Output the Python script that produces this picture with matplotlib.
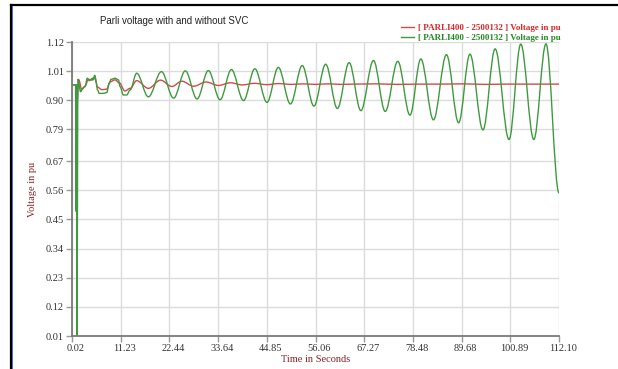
import matplotlib
matplotlib.use("Agg")
import matplotlib.pyplot as plt
from matplotlib.lines import Line2D
from matplotlib.path import Path
from matplotlib.patches import PathPatch
import matplotlib.transforms as mtransforms

# time axis ticks and voltage ticks (as printed on the chart)
x_ticks = [0.02, 11.23, 22.44, 33.64, 44.85, 56.06, 67.27, 78.48, 89.68, 100.89, 112.10]
y_ticks = [0.01, 0.12, 0.23, 0.34, 0.45, 0.56, 0.67, 0.79, 0.90, 1.01, 1.12]

# with SVC (red): turning points
t_red = [0.02, 0.87, 1.1, 1.6, 2.25, 3.0, 3.8, 4.55, 5.3, 5.85, 6.9, 8.0, 8.8,
         9.9, 10.9, 12.2, 13.4, 14.9, 17.6, 20.4, 23.0, 25.3, 28.0, 30.9, 33.7,
         36.5, 39.2, 42.0, 44.8, 47.6, 50.5, 53.3, 56.0, 59.0, 62.0, 65.0,
         70.0, 75.0, 80.0, 85.0, 90.0, 95.0, 100.0, 105.0, 112.1]
v_red = [0.958, 0.958, 0.882, 0.977, 0.940, 0.953, 0.979, 0.976, 0.989, 0.950,
         0.940, 0.942, 0.970, 0.977, 0.966, 0.935, 0.945, 0.974, 0.945, 0.976,
         0.952, 0.972, 0.953, 0.969, 0.956, 0.966, 0.958, 0.964, 0.959, 0.963,
         0.960, 0.962, 0.960, 0.962, 0.960, 0.961, 0.962, 0.960, 0.961, 0.961,
         0.962, 0.960, 0.961, 0.961, 0.961]

# without SVC (green): turning points
t_green = [0.02, 0.85, 0.95, 1.05, 1.15, 1.4, 2.0, 2.4, 3.0, 3.55, 4.0, 4.35,
           4.7, 4.95, 5.25, 5.55, 5.9, 6.3, 7.2, 8.0, 8.6, 9.0, 9.9, 10.7,
           11.1, 11.85, 12.6, 13.4, 14.9,
           17.6, 20.6, 23.4, 26.1, 28.8, 31.4, 34.1, 36.7, 39.5, 42.1, 44.9,
           47.5, 50.3, 53.0, 55.7, 58.4, 61.1, 63.8, 66.5, 69.4, 72.1, 75.0,
           77.8, 80.3, 83.2, 86.2, 89.0, 91.6, 94.6, 97.4, 100.6, 103.3,
           106.3, 109.1, 112.1]
v_green = [0.958, 0.958, 0.48, 0.96, 0.01, 0.98, 0.932, 0.945, 0.951, 0.983,
           0.974, 0.979, 0.983, 0.977, 0.995, 0.970, 0.939, 0.926, 0.926,
           0.929, 0.964, 0.979, 0.983, 0.977, 0.951, 0.920, 0.920, 0.939, 1.002,
           0.913, 1.008, 0.908, 1.011, 0.905, 1.012, 0.902, 1.016, 0.899, 1.019,
           0.892, 1.024, 0.886, 1.031, 0.878, 1.036, 0.869, 1.042, 0.861, 1.050,
           0.858, 1.047, 0.844, 1.056, 0.826, 1.072, 0.815, 1.074, 0.788, 1.094,
           0.752, 1.112, 0.752, 1.113, 0.55]

label = "[ PARLI400 - 2500132 ] Voltage in pu"


def smooth_path(t, v, k=0.36):
    # cubic bezier through the turning points, flat tangent at each one
    verts = [(t[0], v[0])]
    codes = [Path.MOVETO]
    for i in range(1, len(t)):
        dt = t[i] - t[i - 1]
        verts += [(t[i - 1] + k * dt, v[i - 1]), (t[i] - k * dt, v[i]), (t[i], v[i])]
        codes += [Path.CURVE4] * 3
    return Path(verts, codes)


fig = plt.figure(figsize=(6.18, 3.69), dpi=100)
ax = fig.add_axes([72 / 618, 1 - 336 / 369, (559 - 72) / 618, (336 - 42) / 369])

for t, v, c in [(t_red, v_red, "#d24a4a"), (t_green, v_green, "#3f9a3f")]:
    ax.add_patch(PathPatch(smooth_path(t, v), fill=False, edgecolor=c, lw=1.0))
    ax.plot([], [], color=c, lw=1.0, label=label)

ax.set_xlim(x_ticks[0], x_ticks[-1])
ax.set_ylim(y_ticks[0], y_ticks[-1])
ax.set_xticks(x_ticks)
ax.set_yticks(y_ticks)
ax.set_xticklabels(["%.2f" % v for v in x_ticks])
ax.set_yticklabels(["%.2f" % v for v in y_ticks])
ax.grid(True, color="#dcdcdc", lw=1.0)
ax.set_axisbelow(True)

for s in ["top", "right"]:
    ax.spines[s].set_visible(False)
for s in ["left", "bottom"]:
    ax.spines[s].set_color("#7a7a7a")
    ax.spines[s].set_linewidth(1.3)

ax.tick_params(axis="both", length=4, width=1, color="#9a9a9a",
               labelsize=7.5, labelcolor="#333333", pad=2)
for lab in ax.get_xticklabels() + ax.get_yticklabels():
    lab.set_family("Liberation Serif")
shift = mtransforms.ScaledTranslation(4 / 100, 0, fig.dpi_scale_trans)
for lab in ax.get_xticklabels():
    lab.set_transform(lab.get_transform() + shift)

ax.set_xlabel("Time in Seconds", family="Liberation Serif", fontsize=7.5,
              color="#8b2323", labelpad=1)
ax.set_ylabel("Voltage in pu", family="Liberation Serif", fontsize=7.5,
              color="#8b2323", labelpad=6)

fig.text(100 / 618, 1 - 21 / 369, "Parli voltage with and without SVC",
         family="Liberation Sans", fontsize=7, color="#222222", va="center")

leg = fig.legend(loc="upper right", bbox_to_anchor=(561 / 618, 1 - 24 / 369),
                 frameon=False, fontsize=6.5, handlelength=1.4,
                 handletextpad=0.5, labelspacing=0.2, borderpad=0,
                 borderaxespad=0)
for txt, c in zip(leg.get_texts(), ["#d42a2a", "#238b23"]):
    txt.set_color(c)
    txt.set_family("Liberation Serif")
    txt.set_weight("bold")

# screenshot frame: black top and left edge with a thin blue inner line
fig.add_artist(Line2D([10.5 / 618, 1], [1 - 4.5 / 369] * 2, color="black",
                      lw=1.6, transform=fig.transFigure))
fig.add_artist(Line2D([10.5 / 618] * 2, [0, 1 - 4.5 / 369], color="black",
                      lw=1.6, transform=fig.transFigure))
fig.add_artist(Line2D([12.3 / 618] * 2, [0, 1 - 5.5 / 369], color="#3050c0",
                      lw=0.6, transform=fig.transFigure))

fig.savefig("out.png", dpi=100)
